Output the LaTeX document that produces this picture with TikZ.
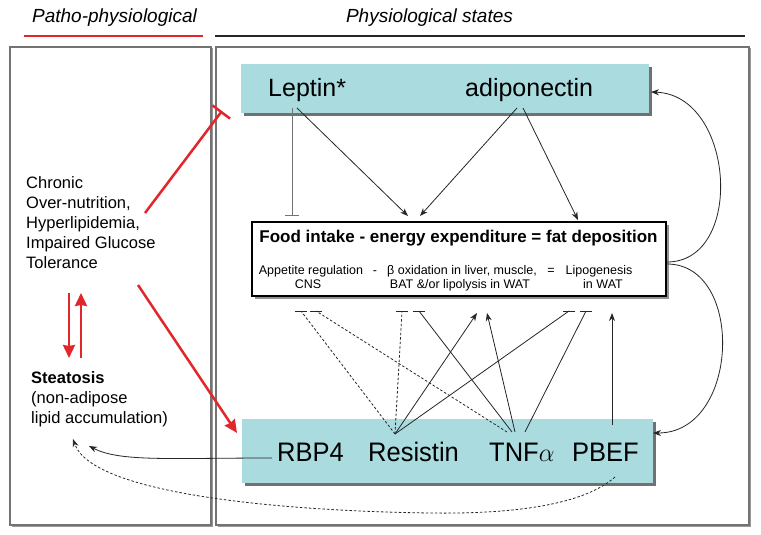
\documentclass[tikz,border=0pt]{standalone}
\usepackage{fontspec}
\setmainfont{Liberation Sans}
\usetikzlibrary{arrows.meta,shadows}
\definecolor{cyanbox}{HTML}{A9DBDF}
\definecolor{redline}{HTML}{E3262C}
\begin{document}
\begin{tikzpicture}[x=1pt,y=-1pt,
  cbox/.style={fill=cyanbox, draw=none, inner sep=0pt,
    drop shadow={shadow xshift=3pt,shadow yshift=-3pt,fill=black!85,opacity=.65}},
  wbox/.style={fill=white, draw=black, line width=1.1pt, inner sep=0pt,
    drop shadow={shadow xshift=2.5pt,shadow yshift=-2.5pt,fill=black!85,opacity=.5}},
  frame/.style={draw=black!55, line width=1.3pt, inner sep=0pt, fill=white,
    drop shadow={shadow xshift=1.5pt,shadow yshift=-1.5pt,fill=black!80,opacity=.5}},
  big/.style={font=\fontsize{25}{30}\selectfont, inner sep=0pt},
  bigb/.style={font=\fontsize{25.5}{30}\selectfont, inner sep=0pt, yscale=1.05},
  lbl/.style={font=\fontsize{16.5}{20}\selectfont, inner sep=0pt, align=left},
  small/.style={font=\fontsize{12.5}{15}\selectfont, inner sep=0pt},
  ttl/.style={font=\fontsize{19}{22}\selectfont\itshape, inner sep=0pt},
  conn/.style={line width=0.8pt, draw=black!85},
  arr/.style={conn, -{Stealth[length=8pt,width=6pt]}},
  redarr/.style={draw=redline, line width=2.5pt, -{Stealth[length=13pt,width=12pt,inset=1pt]}},
  redinh/.style={draw=redline, line width=2.5pt, -{Bar[width=22pt,line width=2.5pt]}},
  dsh/.style={conn, dash pattern=on 2.5pt off 2pt}
]
\useasboundingbox (0,0) rectangle (761,535);

% titles
\node[ttl, anchor=base] (tpatho) at (114.5,23) {Patho-physiological};
\node[ttl, anchor=base] (tphys) at (429.5,23) {Physiological states};
\coordinate (rl1) at (24,36); \coordinate (rl2) at (203,36);
\coordinate (bl1) at (215,36); \coordinate (bl2) at (745,36);
\draw[redline, line width=2.8pt] (rl1) -- (rl2);
\draw[black!85, line width=2.8pt] (bl1) -- (bl2);

% frames
\node[frame, minimum width=201pt, minimum height=478pt] (leftframe) at (110.5,286) {};
\node[frame, minimum width=533pt, minimum height=478pt] (rightframe) at (482.5,286) {};

% boxes
\node[cbox, minimum width=408pt, minimum height=49pt] (topbox) at (445,88.5) {};
\node[cbox, minimum width=411pt, minimum height=64pt] (botbox) at (447.5,451) {};
\node[wbox, minimum width=414pt, minimum height=74pt] (midbox) at (459,259) {};

% top labels
\node[big, anchor=base west] (leptin) at (268,97) {Leptin*};
\node[big, anchor=base west] (adipo) at (465,97) {adiponectin};

% middle texts
\node[font=\fontsize{17}{20}\selectfont\bfseries, inner sep=0pt, anchor=base] (midtitle) at (458.5,242) {Food intake - energy expenditure = fat deposition};
\node[small, anchor=base] (app) at (311,274) {Appetite regulation};
\node[small, anchor=base] (minus) at (375,274) {-};
\node[small, anchor=base] (beta) at (462,274) {β oxidation in liver, muscle,};
\node[small, anchor=base] (eq) at (551,274) {=};
\node[small, anchor=base] (lipo) at (599,274) {Lipogenesis};
\node[small, anchor=base] (cns) at (308,288) {CNS};
\node[small, anchor=base] (bat) at (460,288) {BAT \&/or lipolysis in WAT};
\node[small, anchor=base] (inwat) at (603,288) {in WAT};

% bottom labels
\node[bigb, anchor=base west] (rbp) at (277,461) {RBP4};
\node[bigb, anchor=base west] (resistin) at (368,461) {Resistin};
\node[bigb, anchor=base west] (tnf) at (489,461) {TNF$\alpha$};
\node[bigb, anchor=base west] (pbef) at (572,461) {PBEF};

% left texts
\node[lbl, anchor=north west] (chronic) at (26,176) {Chronic\\Over-nutrition,\\Hyperlipidemia,\\Impaired Glucose\\Tolerance};
\node[lbl, anchor=north west] (steat) at (31,371) {\textbf{Steatosis}\\(non-adipose\\lipid accumulation)};

% coordinates for connectors
\coordinate (lepA) at (292,108); \coordinate (lepB) at (292,215);
\coordinate (lepC) at (297,108); \coordinate (midL) at (408,216);
\coordinate (adA) at (517,108); \coordinate (midM) at (420,216);
\coordinate (adB) at (523,108); \coordinate (midR) at (578,220);

\draw[conn, draw=black!55] (lepA) -- (lepB);
\draw[black!55, line width=0.8pt] ([xshift=-7pt]lepB) -- ([xshift=7pt]lepB);
\draw[arr] (lepC) -- (midL);
\draw[arr] (adA) -- (midM);
\draw[arr] (adB) -- (midR);

% bottom interactions
\coordinate (R) at (395,434);
\coordinate (T1) at (507,432); \coordinate (T2) at (512,432);
\coordinate (T3) at (515,432); \coordinate (T4) at (525,432);
\coordinate (b1) at (301,311); \coordinate (b2) at (316,311);
\coordinate (b3) at (402,311); \coordinate (b4) at (419,311);
\coordinate (b5) at (569,311); \coordinate (b6) at (586,311);
\coordinate (a1) at (477,313); \coordinate (a2) at (487,313);
\coordinate (pA) at (612,425); \coordinate (pB) at (612,313);

\foreach \b in {b1,b2,b3,b4,b5,b6}{
  \draw[black!85, line width=0.8pt] ([xshift=-6pt]\b) -- ([xshift=6pt]\b);
}
\draw[dsh] (R) -- (b1);
\draw[dsh] (T1) -- (b2);
\draw[dsh] (R) -- (b3);
\draw[conn] (T2) -- (b4);
\draw[arr] (R) -- (a1);
\draw[arr] (T3) -- (a2);
\draw[conn] (R) -- (b5);
\draw[conn] (T4) -- (b6);
\draw[arr] (pA) -- (pB);

% right feedback curves
\coordinate (mr1) at (667,262); \coordinate (tr) at (651,92);
\coordinate (mr2) at (667,264); \coordinate (br) at (653,433);
\draw[arr] (mr1) .. controls (745,262) and (735,95) .. (tr);
\draw[arr] (mr2) .. controls (745,264) and (740,433) .. (br);

% red connectors
\coordinate (rA) at (145,213); \coordinate (rB) at (222,111);
\coordinate (rC) at (138,285); \coordinate (rD) at (237,433);
\draw[redinh] (rA) -- (rB);
\draw[redarr] (rC) -- (rD);
\coordinate (d1) at (69,293); \coordinate (d2) at (69,358);
\coordinate (u1) at (81,358); \coordinate (u2) at (81,293);
\draw[redarr] (d1) -- (d2);
\draw[redarr] (u1) -- (u2);

% to steatosis
\coordinate (rbpL) at (272,458); \coordinate (stA) at (89,446);
\draw[arr] (rbpL) .. controls (170,458) and (120,462) .. (stA);
\coordinate (pbefB) at (615,477); \coordinate (mid1) at (430,513); \coordinate (stB) at (73,439);
\draw[dsh, -{Stealth[length=8pt,width=6pt]}] (pbefB) .. controls (580,508) and (500,514) .. (mid1) .. controls (280,511) and (92,494) .. (stB);
\end{tikzpicture}
\end{document}
